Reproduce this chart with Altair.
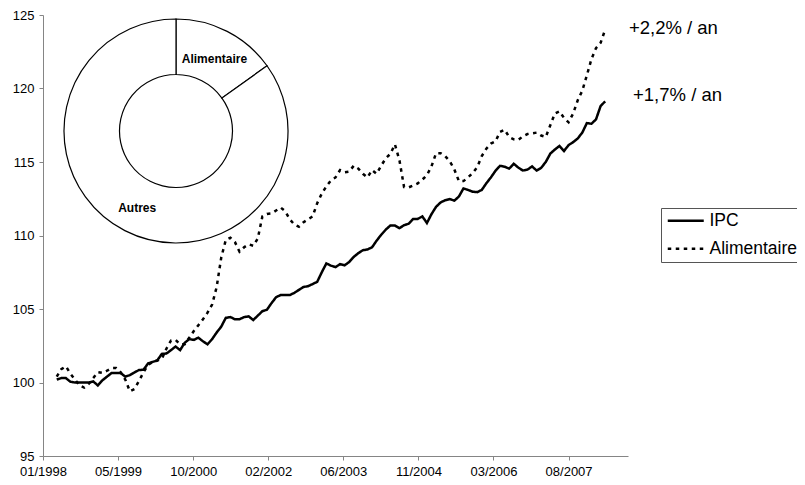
import json
import altair as alt
import pandas as pd

# ---- data ----
# months counted from 01/1998 (0 = January 1998); series start April 1998
first_month = 3
ipc = [100.2, 100.3, 100.3, 100.05, 100.0, 100.0, 100.0, 100.0, 100.07, 99.8,
       100.15, 100.4, 100.64, 100.64, 100.64, 100.4, 100.5, 100.68, 100.85, 100.87,
       101.3, 101.4, 101.5, 101.95, 101.97, 102.2, 102.45, 102.2, 102.7, 102.95,
       102.9, 103.05, 102.8, 102.6, 102.95, 103.4, 103.8, 104.4, 104.45, 104.3,
       104.3, 104.45, 104.5, 104.25, 104.55, 104.85, 104.95, 105.4, 105.8, 105.95,
       105.95, 105.95, 106.1, 106.3, 106.5, 106.55, 106.7, 106.85, 107.5, 108.1,
       107.95, 107.85, 108.05, 107.97, 108.2, 108.55, 108.8, 109.0, 109.05, 109.2,
       109.65, 110.05, 110.4, 110.68, 110.68, 110.5, 110.7, 110.8, 111.13, 111.13,
       111.3, 110.85, 111.45, 111.95, 112.25, 112.4, 112.48, 112.37, 112.65, 113.2,
       113.1, 112.98, 112.95, 113.1, 113.55, 113.95, 114.4, 114.74, 114.68, 114.55,
       114.88, 114.62, 114.42, 114.48, 114.7, 114.42, 114.6, 115.0, 115.57, 115.85,
       116.09, 115.75, 116.15, 116.35, 116.6, 117.0, 117.65, 117.6, 117.9, 118.8,
       119.13]
alimentaire = [100.4, 100.9, 101.1, 100.6, 100.2, 99.8, 99.65, 99.9, 100.3, 100.7,
               100.65, 100.8, 100.98, 100.98, 100.7, 100.2, 99.4, 99.55, 100.1, 100.7,
               101.2, 101.4, 101.5, 101.6, 102.3, 102.85, 102.9, 102.6, 102.6, 103.05,
               103.5, 103.9, 104.3, 104.75, 105.3, 106.5, 108.5, 109.7, 109.85, 109.55,
               108.9, 109.2, 109.4, 109.3, 109.8, 111.3, 111.47, 111.5, 111.7, 111.9,
               111.65, 111.1, 110.75, 110.6, 110.9, 111.1, 111.3, 112.2, 112.85, 113.35,
               113.75, 113.95, 114.45, 114.3, 114.35, 114.75, 114.55, 114.2, 113.95, 114.45,
               114.2, 114.75, 115.25, 115.55, 116.2, 115.1, 113.3, 113.27, 113.4, 113.55,
               113.8, 114.1, 114.7, 115.6, 115.6, 115.4, 115.05, 114.5, 113.7, 113.7,
               113.95, 114.25, 114.65, 115.4, 115.9, 116.25, 116.4, 117.05, 117.2, 116.7,
               116.54, 116.5, 116.75, 116.9, 116.95, 117.0, 116.8, 116.7, 117.5, 118.3,
               118.45, 118.0, 117.7, 118.3, 119.2, 119.85, 120.9, 122.0, 122.75, 123.1,
               124.0]
series_names = ["IPC", "Alimentaire"]

x_tick_labels = ["01/1998", "05/1999", "10/2000", "02/2002", "06/2003",
                 "11/2004", "03/2006", "08/2007"]
x_tick_pos = [0, 16.43, 32.86, 49.29, 65.71, 82.14, 98.57, 115.0]
y_ticks = [95, 100, 105, 110, 115, 120, 125]

donut_cats = ["Alimentaire", "Autres"]
donut_vals = [15.1, 84.9]
donut_label_x = [37.5, 20.6]
donut_label_y = [122.0, 111.9]

growth_labels = ["+2,2% / an", "+1,7% / an"]
growth_x = [128.2, 129.1]
growth_y = [124.14, 119.56]

# ---- tables ----
months = list(range(first_month, first_month + len(ipc)))
lines_df = pd.concat([
    pd.DataFrame({"m": months, "v": ipc, "serie": series_names[0]}),
    pd.DataFrame({"m": months, "v": alimentaire, "serie": series_names[1]}),
])
donut_df = pd.DataFrame({"cat": donut_cats, "val": donut_vals,
                         "ord": list(range(len(donut_cats)))})
donut_lab_df = pd.DataFrame({"cat": donut_cats, "x": donut_label_x, "y": donut_label_y})
growth_df = pd.DataFrame({"t": growth_labels, "x": growth_x, "y": growth_y})

FONT = "Liberation Sans"
label_expr = f"{json.dumps(x_tick_labels)}[indexof({json.dumps(x_tick_pos)}, datum.value)]"

xscale = alt.Scale(domain=[0, 128], nice=False, zero=False)
yscale = alt.Scale(domain=[95, 125], nice=False, zero=False)

donut = alt.Chart(donut_df).mark_arc(
    outerRadius=112, innerRadius=56.5, fill="white", stroke="black", strokeWidth=1.2
).encode(
    theta=alt.Theta("val:Q", stack=True),
    order=alt.Order("ord:Q"),
    x=alt.value(133),
    y=alt.value(116),
)

donut_text = alt.Chart(donut_lab_df).mark_text(
    font=FONT, fontSize=12, fontWeight="bold", color="black", baseline="middle"
).encode(
    x=alt.X("x:Q", scale=xscale),
    y=alt.Y("y:Q", scale=yscale),
    text="cat:N",
)

lines = alt.Chart(lines_df).mark_line(strokeWidth=2.5, color="black").encode(
    x=alt.X("m:Q", scale=xscale, title=None,
            axis=alt.Axis(values=x_tick_pos, labelExpr=label_expr, grid=False,
                          domainColor="#858585", tickColor="#858585", tickSize=4,
                          labelPadding=5, labelFont=FONT, labelFontSize=13,
                          labelColor="black", labelFlush=False, labelOverlap=False)),
    y=alt.Y("v:Q", scale=yscale, title=None,
            axis=alt.Axis(values=y_ticks, grid=False, domainColor="#858585",
                          tickColor="#858585", tickSize=4, labelPadding=5,
                          labelFont=FONT, labelFontSize=13, labelColor="black")),
    strokeDash=alt.StrokeDash(
        "serie:N",
        scale=alt.Scale(domain=series_names, range=[[1, 0], [3.5, 4.5]]),
        legend=alt.Legend(
            title=None, orient="none", legendX=618, legendY=193,
            symbolType="M-3,0H3", symbolSize=144, symbolStrokeWidth=2.5,
            symbolStrokeColor="black", symbolOffset=12,
            labelFont=FONT, labelFontSize=17.5,
            labelColor="black", labelOffset=15, padding=4, rowPadding=9,
            strokeColor="#555", fillColor="white",
        ),
    ),
    detail="serie:N",
)

growth = alt.Chart(growth_df).mark_text(
    font=FONT, fontSize=18.5, color="black", align="left", baseline="middle"
).encode(
    x=alt.X("x:Q", scale=xscale),
    y=alt.Y("y:Q", scale=yscale),
    text="t:N",
)

chart = alt.layer(donut, donut_text, lines, growth).resolve_scale(
    theta="independent"
).properties(
    width=585, height=441,
    autosize=alt.AutoSizeParams(type="none"),
    padding={"left": 35, "top": 7, "right": 169, "bottom": 21},
    background="white",
).configure_view(stroke=None)

chart.save("out.html", embed_options={"renderer": "svg", "actions": False})
